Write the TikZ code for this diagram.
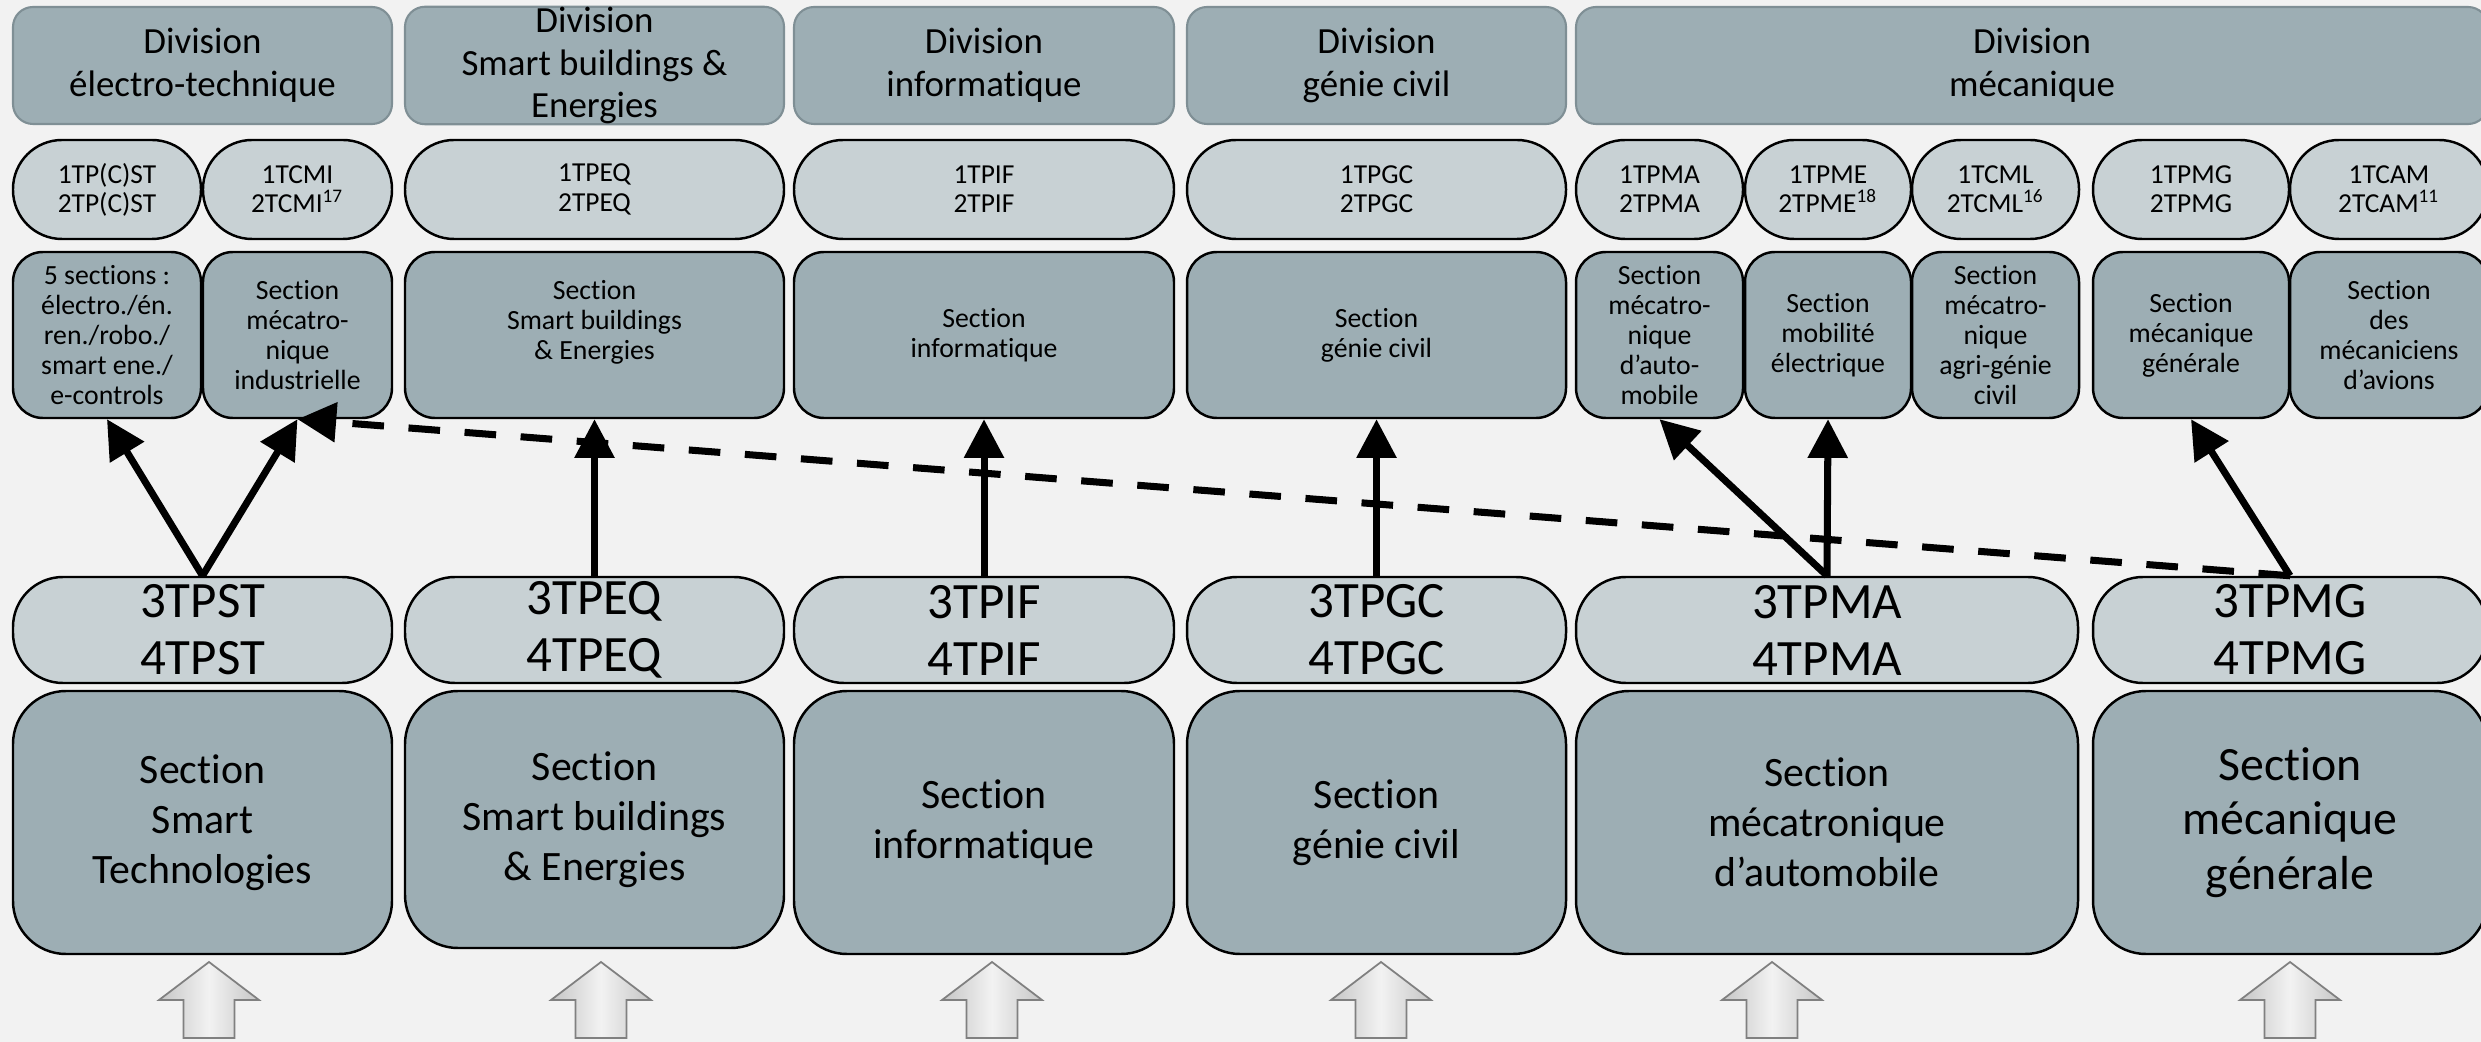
\documentclass[tikz,border=0pt]{standalone}
\usepackage{fontspec}
\setmainfont{Carlito}[Ligatures=NoCommon]
\usetikzlibrary{arrows.meta}
\definecolor{bgc}{HTML}{F2F2F2}
\definecolor{darkf}{HTML}{9DAEB4}
\definecolor{lightf}{HTML}{C8D1D4}
\definecolor{divb}{HTML}{7F8F95}
\begin{document}
\begin{tikzpicture}[x=0.1mm,y=-0.1mm,
  divbox/.style={draw=divb, line width=0.6pt, fill=darkf, rounded corners=2mm, inner sep=0pt, align=center, minimum height=11.7mm, font=\fontsize{10.5}{12.2}\selectfont},
  pillbox/.style={draw=black, line width=0.7pt, fill=lightf, rounded corners=4.9mm, inner sep=0pt, align=center, minimum height=9.9mm, font=\fontsize{7.8}{8.3}\selectfont},
  secbox/.style={draw=black, line width=0.7pt, fill=darkf, rounded corners=3mm, inner sep=0pt, align=center, minimum height=16.6mm, font=\fontsize{7.9}{8.5}\selectfont},
  yearbox/.style={draw=black, line width=0.7pt, fill=lightf, rounded corners=5mm, inner sep=0pt, align=center, minimum height=10.6mm, font=\fontsize{14.5}{16.2}\selectfont},
  bigsec/.style={draw=black, line width=0.7pt, fill=darkf, rounded corners=5.3mm, inner sep=0pt, align=center, minimum height=26.3mm, font=\fontsize{11.9}{14.2}\selectfont},
  link/.style={line width=2pt, -{Triangle[length=11pt,width=11pt]}},
  dlink/.style={link, dash pattern=on 9pt off 7pt},
  upblock/.pic={\draw[draw=gray, line width=0.5pt, left color=gray!45, right color=gray!45, middle color=gray!10]
     (0,962) -- (50,1000) -- (25.5,1000) -- (25.5,1038) -- (-25.5,1038) -- (-25.5,1000) -- (-50,1000) -- cycle;}
]
\useasboundingbox (0,0) rectangle (2481,1042);
\fill[bgc] (0,0) rectangle (2481,1042);

% Row 1: divisions
\node[divbox, minimum width=37.9mm] (d1) at (202.5,65.5) {Division\\électro-technique};
\node[divbox, minimum width=37.9mm] (d2) at (594.5,65.5) {Division\\Smart buildings \&\\Energies};
\node[divbox, minimum width=38.0mm] (d3) at (984,65.5) {Division\\informatique};
\node[divbox, minimum width=37.9mm] (d4) at (1376.5,65.5) {Division\\génie civil};
\node[divbox, minimum width=91.2mm] (d5) at (2032,65.5) {Division\\mécanique};

% Row 2: 1st/2nd year classes
\node[pillbox, minimum width=18.8mm] (p1a) at (107,189.5) {1TP(C)ST\\2TP(C)ST};
\node[pillbox, minimum width=18.9mm] (p1b) at (297.5,189.5) {1TCMI\\2TCMI\textsuperscript{17}};
\node[pillbox, minimum width=37.9mm] (p2) at (594.5,189.5) {1TPEQ\\2TPEQ};
\node[pillbox, minimum width=38.0mm] (p3) at (984,189.5) {1TPIF\\2TPIF};
\node[pillbox, minimum width=37.9mm] (p4) at (1376.5,189.5) {1TPGC\\2TPGC};
\node[pillbox, minimum width=16.7mm] (p5a) at (1659.5,189.5) {1TPMA\\2TPMA};
\node[pillbox, minimum width=16.6mm] (p5b) at (1828,189.5) {1TPME\\2TPME\textsuperscript{18}};
\node[pillbox, minimum width=16.7mm] (p5c) at (1995.5,189.5) {1TCML\\2TCML\textsuperscript{16}};
\node[pillbox, minimum width=19.6mm] (p5d) at (2191,189.5) {1TPMG\\2TPMG};
\node[pillbox, minimum width=19.8mm] (p5e) at (2389,189.5) {1TCAM\\2TCAM\textsuperscript{11}};

% Row 3: sections (upper)
\node[secbox, minimum width=18.8mm] (s1a) at (107,335) {5 sections :\\électro./én.\\ren./robo./\\smart ene./\\e-controls};
\node[secbox, minimum width=18.9mm] (s1b) at (297.5,335) {Section\\mécatro-\\nique\\industrielle};
\node[secbox, minimum width=37.9mm] (s2) at (594.5,335) {Section\\Smart buildings\\\& Energies\\\mbox{}};
\node[secbox, minimum width=38.0mm] (s3) at (984,335) {Section\\informatique};
\node[secbox, minimum width=37.9mm] (s4) at (1376.5,335) {Section\\génie civil};
\node[secbox, minimum width=16.7mm] (s5a) at (1659.5,335) {Section\\mécatro-\\nique\\d’auto-\\mobile};
\node[secbox, minimum width=16.6mm] (s5b) at (1828,335) {Section\\mobilité\\électrique};
\node[secbox, minimum width=16.7mm] (s5c) at (1995.5,335) {Section\\mécatro-\\nique\\agri-génie\\civil};
\node[secbox, minimum width=19.6mm] (s5d) at (2191,335) {Section\\mécanique\\générale};
\node[secbox, minimum width=19.8mm] (s5e) at (2389,335) {Section\\des\\mécaniciens\\d’avions};

% Row 4: 3rd/4th year classes
\node[yearbox, minimum width=37.9mm] (q1) at (202.5,630) {3TPST\\4TPST};
\node[yearbox, minimum width=37.9mm] (q2) at (594.5,630) {3TPEQ\\4TPEQ};
\node[yearbox, minimum width=38.0mm] (q3) at (984,630) {3TPIF\\4TPIF};
\node[yearbox, minimum width=37.9mm] (q4) at (1376.5,630) {3TPGC\\4TPGC};
\node[yearbox, minimum width=50.2mm] (q5) at (1827,630) {3TPMA\\4TPMA};
\node[yearbox, minimum width=39.4mm] (q6) at (2290,630) {3TPMG\\4TPMG};

% Row 5: sections (lower)
\node[bigsec, minimum width=37.9mm] (b1) at (202.5,822.5) {Section\\Smart\\Technologies};
\node[bigsec, minimum width=37.9mm, minimum height=25.7mm] (b2) at (594.5,819.5) {Section\\Smart buildings\\\& Energies};
\node[bigsec, minimum width=38.0mm] (b3) at (984,822.5) {Section\\informatique};
\node[bigsec, minimum width=37.9mm] (b4) at (1376.5,822.5) {Section\\génie civil};
\node[bigsec, minimum width=50.2mm] (b5) at (1827,822.5) {Section\\mécatronique\\d’automobile};
\node[bigsec, minimum width=39.4mm, font=\fontsize{13.6}{15.6}\selectfont] (b6) at (2290,822.5) {Section\\mécanique\\générale};

% Block arrows at the bottom
\pic at (209,0) {upblock};
\pic at (601,0) {upblock};
\pic at (992,0) {upblock};
\pic at (1381,0) {upblock};
\pic at (1772,0) {upblock};
\pic at (2290,0) {upblock};

% Connectors
\draw[link] (q1.north) -- (s1a.south);
\draw[link] (q1.north) -- (s1b.south);
\draw[link] (q2.north) -- (s2.south);
\draw[link] (q3.north) -- (s3.south);
\draw[link] (q4.north) -- (s4.south);
\draw[link] (q5.north) -- (s5a.south);
\draw[link] (q5.north) -- (s5b.south);
\draw[link] (q6.north) -- (s5d.south);
\draw[dlink] (q6.north) -- (s1b.south);
\end{tikzpicture}
\end{document}
